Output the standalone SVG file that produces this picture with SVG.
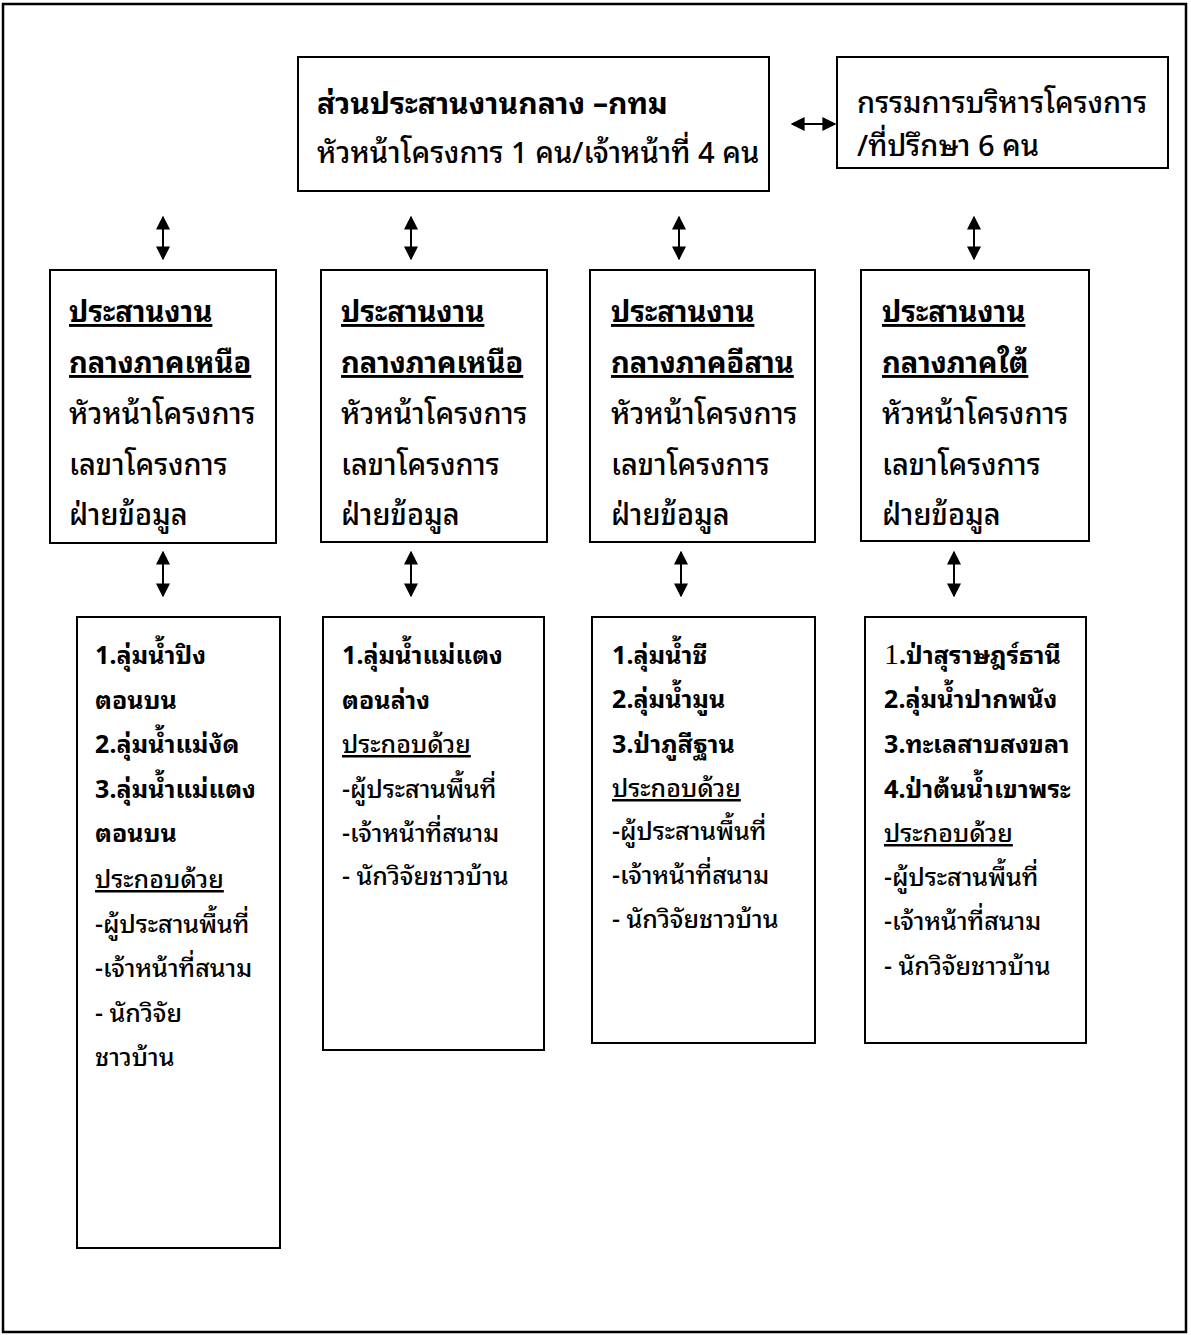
<svg xmlns="http://www.w3.org/2000/svg" width="1191" height="1335" viewBox="0 0 1191 1335">
<defs>
<style>
.box{fill:#fff;stroke:#000;stroke-width:2}
.frame{fill:#fff;stroke:#000;stroke-width:2.5}
text{font-family:"Noto Sans Thai Looped","Noto Sans Thai","Loma","Garuda","DejaVu Sans","Liberation Sans",sans-serif;fill:#000;font-weight:500}
.t1{font-size:29px}
.t1b{font-size:30px}
.t2{font-size:29px}
.t3{font-size:25px}
.b{font-weight:bold}
.u{text-decoration:underline}
.con{stroke:#000;stroke-width:2;fill:none}
</style>
<marker id="ah" viewBox="0 0 10 10" refX="9" refY="5" markerWidth="7" markerHeight="7" orient="auto-start-reverse" markerUnits="strokeWidth">
<path d="M0,0 L10,5 L0,10 z" fill="#000"/>
</marker>
</defs>
<rect class="frame" x="3" y="4" width="1183" height="1328"/>
<g id="connectors">
<line class="con" x1="792" y1="124" x2="835" y2="124" marker-start="url(#ah)" marker-end="url(#ah)"/>
<line class="con" x1="163" y1="217" x2="163" y2="259" marker-start="url(#ah)" marker-end="url(#ah)"/>
<line class="con" x1="411" y1="217" x2="411" y2="259" marker-start="url(#ah)" marker-end="url(#ah)"/>
<line class="con" x1="679" y1="217" x2="679" y2="259" marker-start="url(#ah)" marker-end="url(#ah)"/>
<line class="con" x1="974" y1="217" x2="974" y2="259" marker-start="url(#ah)" marker-end="url(#ah)"/>
<line class="con" x1="163" y1="552" x2="163" y2="596" marker-start="url(#ah)" marker-end="url(#ah)"/>
<line class="con" x1="411" y1="552" x2="411" y2="596" marker-start="url(#ah)" marker-end="url(#ah)"/>
<line class="con" x1="681" y1="552" x2="681" y2="596" marker-start="url(#ah)" marker-end="url(#ah)"/>
<line class="con" x1="954" y1="552" x2="954" y2="596" marker-start="url(#ah)" marker-end="url(#ah)"/>
</g>
<g id="central">
<rect class="box" x="298" y="57" width="471" height="134"/>
<text class="t1b b" x="317" y="114">ส่วนประสานงานกลาง –กทม</text>
<text class="t1" x="317" y="163">หัวหน้าโครงการ 1 คน/เจ้าหน้าที่ 4 คน</text>
</g>
<g id="committee">
<rect class="box" x="837" y="57" width="331" height="111"/>
<text class="t1" x="857" y="113">กรรมการบริหารโครงการ</text>
<text class="t1" x="857" y="156">/ที่ปรึกษา 6 คน</text>
</g>
<g id="region1">
<rect class="box" x="50" y="270" width="226" height="273"/>
<text class="t2 b u" x="69" y="322">ประสานงาน</text>
<text class="t2 b u" x="69" y="373">กลางภาคเหนือ</text>
<text class="t2" x="69" y="424">หัวหน้าโครงการ</text>
<text class="t2" x="69" y="475">เลขาโครงการ</text>
<text class="t2" x="69" y="525">ฝ่ายข้อมูล</text>
</g>
<g id="region2">
<rect class="box" x="321" y="270" width="226" height="272"/>
<text class="t2 b u" x="341" y="322">ประสานงาน</text>
<text class="t2 b u" x="341" y="373">กลางภาคเหนือ</text>
<text class="t2" x="341" y="424">หัวหน้าโครงการ</text>
<text class="t2" x="341" y="475">เลขาโครงการ</text>
<text class="t2" x="341" y="525">ฝ่ายข้อมูล</text>
</g>
<g id="region3">
<rect class="box" x="590" y="270" width="225" height="272"/>
<text class="t2 b u" x="611" y="322">ประสานงาน</text>
<text class="t2 b u" x="611" y="373">กลางภาคอีสาน</text>
<text class="t2" x="611" y="424">หัวหน้าโครงการ</text>
<text class="t2" x="611" y="475">เลขาโครงการ</text>
<text class="t2" x="611" y="525">ฝ่ายข้อมูล</text>
</g>
<g id="region4">
<rect class="box" x="861" y="270" width="228" height="271"/>
<text class="t2 b u" x="882" y="322">ประสานงาน</text>
<text class="t2 b u" x="882" y="373">กลางภาคใต้</text>
<text class="t2" x="882" y="424">หัวหน้าโครงการ</text>
<text class="t2" x="882" y="475">เลขาโครงการ</text>
<text class="t2" x="882" y="525">ฝ่ายข้อมูล</text>
</g>
<g id="area1">
<rect class="box" x="77" y="617" width="203" height="631"/>
<text class="t3 b" x="95" y="664">1.ลุ่มน้ำปิง</text>
<text class="t3 b" x="95" y="709">ตอนบน</text>
<text class="t3 b" x="95" y="753">2.ลุ่มน้ำแม่งัด</text>
<text class="t3 b" x="95" y="798">3.ลุ่มน้ำแม่แตง</text>
<text class="t3 b" x="95" y="842">ตอนบน</text>
<text class="t3 u" x="95" y="888">ประกอบด้วย</text>
<text class="t3" x="95" y="933">-ผู้ประสานพื้นที่</text>
<text class="t3" x="95" y="977">-เจ้าหน้าที่สนาม</text>
<text class="t3" x="95" y="1022">- นักวิจัย</text>
<text class="t3" x="95" y="1066">ชาวบ้าน</text>
</g>
<g id="area2">
<rect class="box" x="323" y="617" width="221" height="433"/>
<text class="t3 b" x="342" y="664">1.ลุ่มน้ำแม่แตง</text>
<text class="t3 b" x="342" y="709">ตอนล่าง</text>
<text class="t3 u" x="342" y="753">ประกอบด้วย</text>
<text class="t3" x="342" y="798">-ผู้ประสานพื้นที่</text>
<text class="t3" x="342" y="842">-เจ้าหน้าที่สนาม</text>
<text class="t3" x="342" y="885">- นักวิจัยชาวบ้าน</text>
</g>
<g id="area3">
<rect class="box" x="592" y="617" width="223" height="426"/>
<text class="t3 b" x="612" y="664">1.ลุ่มน้ำชี</text>
<text class="t3 b" x="612" y="708">2.ลุ่มน้ำมูน</text>
<text class="t3 b" x="612" y="753">3.ป่าภูสีฐาน</text>
<text class="t3 u" x="612" y="797">ประกอบด้วย</text>
<text class="t3" x="612" y="840">-ผู้ประสานพื้นที่</text>
<text class="t3" x="612" y="884">-เจ้าหน้าที่สนาม</text>
<text class="t3" x="612" y="928">- นักวิจัยชาวบ้าน</text>
</g>
<g id="area4">
<rect class="box" x="865" y="617" width="221" height="426"/>
<text class="t3 b" x="884" y="664"><tspan style="font-family:'Liberation Serif',serif;font-size:30px;font-weight:normal">1</tspan>.ป่าสุราษฎร์ธานี</text>
<text class="t3 b" x="884" y="708">2.ลุ่มน้ำปากพนัง</text>
<text class="t3 b" x="884" y="753">3.ทะเลสาบสงขลา</text>
<text class="t3 b" x="884" y="798">4.ป่าต้นน้ำเขาพระ</text>
<text class="t3 u" x="884" y="842">ประกอบด้วย</text>
<text class="t3" x="884" y="886">-ผู้ประสานพื้นที่</text>
<text class="t3" x="884" y="930">-เจ้าหน้าที่สนาม</text>
<text class="t3" x="884" y="975">- นักวิจัยชาวบ้าน</text>
</g>
</svg>
